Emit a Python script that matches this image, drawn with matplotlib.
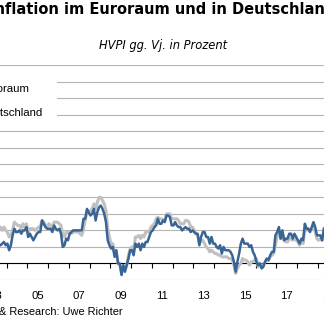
import numpy as np
import matplotlib
matplotlib.use("Agg")
import matplotlib.pyplot as plt
from matplotlib.patches import Rectangle

## monthly HVPI yoy rates, Jan 2003 .. Apr 2019
start_year = 2003
euroraum = [
    2.1, 2.4, 2.5, 2.1, 1.8, 1.9, 1.9, 2.1, 2.2, 2.0, 2.2, 2.0,   # 2003
    1.9, 1.6, 1.7, 2.0, 2.5, 2.4, 2.3, 2.3, 2.1, 2.4, 2.2, 2.4,   # 2004
    1.9, 2.1, 2.1, 2.1, 2.0, 2.1, 2.2, 2.2, 2.6, 2.5, 2.3, 2.2,   # 2005
    2.4, 2.3, 2.2, 2.5, 2.5, 2.5, 2.4, 2.3, 1.7, 1.6, 1.9, 1.9,   # 2006
    1.8, 1.8, 1.9, 1.9, 1.9, 1.9, 1.8, 1.7, 2.1, 2.6, 3.1, 3.1,   # 2007
    3.2, 3.3, 3.6, 3.3, 3.7, 4.0, 4.0, 3.8, 3.6, 3.2, 2.1, 1.6,   # 2008
    1.1, 1.2, 0.6, 0.6, 0.0, -0.1, -0.6, -0.2, -0.3, -0.1, 0.5, 0.9,  # 2009
    1.0, 0.8, 1.6, 1.6, 1.7, 1.5, 1.7, 1.6, 1.9, 1.9, 1.9, 2.2,   # 2010
    2.3, 2.4, 2.7, 2.8, 2.7, 2.7, 2.6, 2.6, 3.0, 3.0, 3.0, 2.7,   # 2011
    2.7, 2.7, 2.7, 2.6, 2.4, 2.4, 2.4, 2.6, 2.6, 2.5, 2.2, 2.2,   # 2012
    2.0, 1.8, 1.7, 1.2, 1.4, 1.4, 1.2, 1.0, 0.9, 0.7, 0.8, 0.7,   # 2013
    0.6, 0.6, 0.5, 0.5, 0.4, 0.4, 0.4, 0.4, 0.3, 0.3, 0.2, -0.1,  # 2014
    -0.6, -0.3, -0.1, 0.0, 0.3, 0.2, 0.2, 0.1, -0.1, 0.1, 0.1, 0.2,  # 2015
    0.3, -0.2, 0.0, -0.2, -0.1, 0.1, 0.2, 0.2, 0.4, 0.5, 0.6, 1.1,  # 2016
    1.7, 2.0, 1.5, 1.9, 1.4, 1.3, 1.3, 1.5, 1.5, 1.4, 1.5, 1.4,   # 2017
    1.3, 1.1, 1.4, 1.2, 2.0, 2.0, 2.1, 2.0, 2.1, 2.2, 1.9, 1.5,   # 2018
    1.4, 1.5, 1.4, 1.7,                                           # 2019
]
deutschland = [
    0.9, 1.2, 1.2, 1.0, 0.6, 0.9, 0.8, 1.1, 1.1, 1.2, 1.3, 1.1,   # 2003
    1.2, 0.8, 1.1, 1.7, 2.1, 1.9, 1.9, 2.0, 1.8, 2.0, 2.0, 2.2,   # 2004
    1.6, 1.8, 1.6, 1.4, 1.6, 1.8, 1.9, 1.9, 2.6, 2.4, 2.2, 2.1,   # 2005
    2.1, 2.1, 1.9, 2.3, 2.1, 2.0, 2.1, 1.8, 1.0, 1.1, 1.5, 1.4,   # 2006
    1.8, 1.9, 2.0, 2.0, 2.0, 2.0, 2.0, 2.0, 2.7, 2.7, 3.3, 3.1,   # 2007
    2.9, 3.0, 3.3, 2.6, 3.1, 3.4, 3.5, 3.3, 3.0, 2.5, 1.4, 1.1,   # 2008
    0.9, 1.0, 0.4, 0.8, 0.0, 0.0, -0.7, -0.1, -0.5, -0.1, 0.3, 0.8,  # 2009
    0.8, 0.5, 1.2, 1.0, 1.2, 0.8, 1.2, 1.0, 1.3, 1.3, 1.6, 1.9,   # 2010
    2.0, 2.2, 2.3, 2.7, 2.4, 2.4, 2.6, 2.5, 2.9, 2.9, 2.8, 2.3,   # 2011
    2.3, 2.5, 2.3, 2.2, 2.2, 2.0, 2.1, 2.2, 2.1, 2.1, 1.9, 2.0,   # 2012
    1.9, 1.8, 1.8, 1.1, 1.6, 1.9, 1.9, 1.6, 1.6, 1.2, 1.6, 1.2,   # 2013
    1.2, 1.0, 0.9, 1.1, 0.6, 1.0, 0.8, 0.8, 0.8, 0.7, 0.5, 0.1,   # 2014
    -0.5, 0.1, 0.6, 1.2, 1.5, 1.2, 1.2, 1.2, 1.0, 1.1, 0.7, 0.5,  # 2015
    0.1, -0.1, 0.0, -0.3, -0.2, 0.1, 0.3, 0.2, 0.5, 0.7, 0.7, 1.7,  # 2016
    1.9, 2.2, 1.5, 2.0, 1.4, 1.5, 1.5, 1.8, 1.8, 1.5, 1.8, 1.6,   # 2017
    1.4, 1.2, 1.5, 1.4, 2.4, 2.1, 2.1, 1.9, 2.2, 2.5, 2.2, 1.7,   # 2018
    1.7, 1.7, 1.4, 2.1,                                           # 2019
]
year_labels = ['03', '05', '07', '09', '11', '13', '15', '17', '19']

W, H = 324, 322
BLUE = '#386496'
GREY = '#c0c0c0'
GRID = '#b4b4b4'

months = np.arange(len(euroraum))
x = start_year + (months + 0.5) / 12.0

fig = plt.figure(figsize=(W / 100, H / 100), dpi=100)
## axes reaches past the left and right border (chart is cropped)
x0, x1 = 2003.0, 2019.6
px0 = 27.3 - 2 * 20.75
px1 = 27.3 + (x1 - 2005) * 20.75
ax = fig.add_axes([px0 / W, 42 / H, (px1 - px0) / W, 215 / H])
ax.set_xlim(x0, x1)
ax.set_ylim(-1, 12)

ax.plot(x, euroraum, color=GREY, lw=2.2, label='Euroraum', zorder=3,
        solid_joinstyle='round')
ax.plot(x, deutschland, color=BLUE, lw=1.8, label='Deutschland', zorder=4,
        solid_joinstyle='round')

ax.set_yticks(np.arange(-1, 13))
ax.grid(axis='y', color=GRID, lw=0.8)
ax.set_axisbelow(True)
ax.tick_params(axis='y', length=0, labelleft=False)

for s in ['left', 'right', 'top']:
    ax.spines[s].set_visible(False)
ax.spines['bottom'].set_position(('data', 0))
ax.spines['bottom'].set_color('black')
ax.spines['bottom'].set_linewidth(0.8)

ax.set_xticks(np.arange(2003, 2020))
ax.tick_params(axis='x', which='major', direction='out', length=3.6,
               width=0.8, color='black', labelbottom=False)
ax.set_xticks([2003.5 + 2 * i for i in range(len(year_labels))], minor=True)
ax.set_xticklabels(year_labels, minor=True)
ax.tick_params(axis='x', which='minor', length=0, pad=19.5,
               labelsize=8.2, labelfontfamily='Liberation Sans')

## white box behind the legend
ax.add_patch(Rectangle((-0.2, 1 - 124 / H), 0.2 + 57 / W, 52 / H,
                       transform=fig.transFigure, facecolor='white',
                       edgecolor='none', zorder=1.5))
leg = ax.legend(loc='upper left', bbox_to_anchor=(-57.5 / W, 1 - 79 / H),
                bbox_transform=fig.transFigure, borderaxespad=0,
                frameon=False, handlelength=2, handletextpad=0.8,
                borderpad=0.4, labelspacing=1.3,
                prop={'family': 'Liberation Sans', 'size': 8.2})

fig.text(162 / W, 1 - 10 / H, 'Inflation im Euroraum und in Deutschland',
         ha='center', va='center', fontsize=10.5, fontweight='bold',
         family='DejaVu Sans')
fig.text(163 / W, 1 - 45 / H, 'HVPI gg. Vj. in Prozent', ha='center',
         va='center', fontsize=8.3, style='italic', family='DejaVu Sans')
fig.text(-1 / W, 1 - 312 / H, '& Research: Uwe Richter', ha='left',
         va='center', fontsize=7.9, family='Liberation Sans')

fig.savefig('out.png', dpi=100)
